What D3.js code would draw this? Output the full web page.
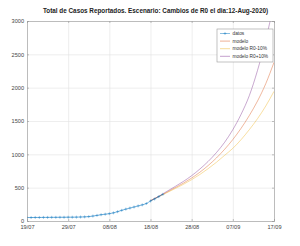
<!DOCTYPE html>
<html>
<head>
<meta charset="utf-8">
<script src="https://cdn.jsdelivr.net/npm/d3@7"></script>
<style>
  body { margin: 0; background: #fff; }
  svg { font-family: "Liberation Sans", Arial, sans-serif; }
  .grid line { stroke: #e3e3e3; stroke-width: 0.6; }
  .grid path { display: none; }
  .axis path, .axis line { stroke: #9a9a9a; stroke-width: 0.6; }
  .axis text { fill: #444; font-size: 5.6px; }
</style>
</head>
<body>
<svg width="300" height="246"></svg>
<script>
// Datos: dias desde 19/07/2020
const datosDias = [0,1,2,3,4,5,6,7,8,9,10,11,12,13,14,15,16,17,18,19,20,21,22,23,24,25,26,27,28,29,30,31,32,33];
const datosCasos = [52,52,53,53,54,54,55,55,56,56,57,57,58,60,62,66,74,84,94,102,110,122,140,160,178,194,210,226,242,262,300,330,365,400];

// Modelos
const modeloDias = [30,32,34,36,38,40,42,44,46,48,50,52,54,56,58,60];
const modelo = [305,368,432,500,568,645,732,832,945,1075,1222,1390,1582,1800,2060,2380];
const modeloMenos = [305,366,425,487,550,620,698,785,880,985,1090,1220,1370,1535,1725,1945];
const modeloMas = [305,370,445,518,594,680,780,893,1025,1180,1370,1600,1880,2260,2720,3260];

const xTickLabels = ['19/07','29/07','08/08','18/08','28/08','07/09','17/09'];
const yTicks = [0,500,1000,1500,2000,2500,3000];
const leyenda = ['datos','modelo','modelo R0-10%','modelo R0+10%'];
const colores = ['#0072bd','#d95319','#edb120','#7e2f8e'];

const inicio = new Date(2020, 6, 19);
const diaAFecha = d => d3.timeDay.offset(inicio, d);
const parseTick = d3.timeParse('%d/%m/%Y');

const mLeft = 27, mRight = 274, mTop = 21, mBottom = 221;
const svg = d3.select('svg');

const x = d3.scaleTime()
  .domain([inicio, diaAFecha(60)])
  .range([mLeft, mRight]);
const y = d3.scaleLinear()
  .domain([0, 3000])
  .range([mBottom, mTop]);

const xTickDates = xTickLabels.map(s => parseTick(s + '/2020'));

// grid
svg.append('g')
  .attr('class', 'grid')
  .attr('transform', `translate(0,${mBottom})`)
  .call(d3.axisBottom(x).tickValues(xTickDates).tickSize(-(mBottom - mTop)).tickFormat(''));
svg.append('g')
  .attr('class', 'grid')
  .attr('transform', `translate(${mLeft},0)`)
  .call(d3.axisLeft(y).tickValues(yTicks).tickSize(-(mRight - mLeft)).tickFormat(''));

svg.append('defs').append('clipPath').attr('id', 'clip')
  .append('rect').attr('x', mLeft).attr('y', mTop).attr('width', mRight - mLeft).attr('height', mBottom - mTop);

const plot = svg.append('g').attr('clip-path', 'url(#clip)');

const linea = d3.line()
  .x(d => x(diaAFecha(d[0])))
  .y(d => y(d[1]))
  .curve(d3.curveMonotoneX);

const series = [modelo, modeloMenos, modeloMas];
series.forEach((s, i) => {
  plot.append('path')
    .datum(modeloDias.map((d, j) => [d, s[j]]))
    .attr('fill', 'none')
    .attr('stroke', colores[i + 1])
    .attr('stroke-opacity', 0.6)
    .attr('stroke-width', 0.7)
    .attr('d', linea);
});

const datos = datosDias.map((d, j) => [d, datosCasos[j]]);
plot.append('path')
  .datum(datos)
  .attr('fill', 'none')
  .attr('stroke', colores[0])
  .attr('stroke-opacity', 0.75)
  .attr('stroke-width', 0.7)
  .attr('d', linea);

const cruz = {
  draw(ctx) { const r = 1.5; ctx.moveTo(-r, 0); ctx.lineTo(r, 0); ctx.moveTo(0, -r); ctx.lineTo(0, r); }
};
plot.selectAll('.marca')
  .data(datos)
  .enter()
  .append('path')
  .attr('class', 'marca')
  .attr('transform', d => `translate(${x(diaAFecha(d[0]))},${y(d[1])})`)
  .attr('d', d3.symbol().type(cruz))
  .attr('fill', 'none')
  .attr('stroke', colores[0])
  .attr('stroke-opacity', 0.75)
  .attr('stroke-width', 0.5);

// axes
svg.append('g')
  .attr('class', 'axis')
  .attr('transform', `translate(0,${mBottom})`)
  .call(d3.axisBottom(x).tickValues(xTickDates).tickSize(-2).tickPadding(4).tickFormat(d3.timeFormat('%d/%m')));
svg.append('g')
  .attr('class', 'axis')
  .attr('transform', `translate(0,${mTop})`)
  .call(d3.axisTop(x).tickValues(xTickDates).tickSize(-2).tickFormat(''));
svg.append('g')
  .attr('class', 'axis')
  .attr('transform', `translate(${mLeft},0)`)
  .call(d3.axisLeft(y).tickValues(yTicks).tickSize(-2).tickPadding(3).tickFormat(d3.format('d')));
svg.append('g')
  .attr('class', 'axis')
  .attr('transform', `translate(${mRight},0)`)
  .call(d3.axisRight(y).tickValues(yTicks).tickSize(-2).tickFormat(''));

// title
svg.append('text')
  .attr('x', 155.5)
  .attr('y', 13)
  .attr('text-anchor', 'middle')
  .attr('font-size', '6.35px')
  .attr('font-weight', 'bold')
  .attr('fill', '#222')
  .text('Total de Casos Reportados. Escenario: Cambios de R0 el dia:12-Aug-2020)');

// legend
const lg = svg.append('g');
lg.append('rect')
  .attr('x', 217).attr('y', 29).attr('width', 56).attr('height', 33)
  .attr('fill', '#fff').attr('stroke', '#9a9a9a').attr('stroke-width', 0.6);
leyenda.forEach((t, i) => {
  const yy = 33.5 + i * 7.6;
  lg.append('line')
    .attr('x1', 220).attr('x2', 230).attr('y1', yy).attr('y2', yy)
    .attr('stroke', colores[i]).attr('stroke-opacity', 0.65).attr('stroke-width', 0.7);
  if (i === 0) {
    lg.append('path')
      .attr('d', 'M223.5,' + yy + 'h3M225,' + (yy - 1.5) + 'v3')
      .attr('stroke', colores[0]).attr('stroke-opacity', 0.75).attr('stroke-width', 0.5);
  }
  lg.append('text')
    .attr('x', 232.5).attr('y', yy + 1.7)
    .attr('font-size', '4.8px')
    .attr('fill', '#333')
    .text(t);
});
</script>
</body>
</html>
